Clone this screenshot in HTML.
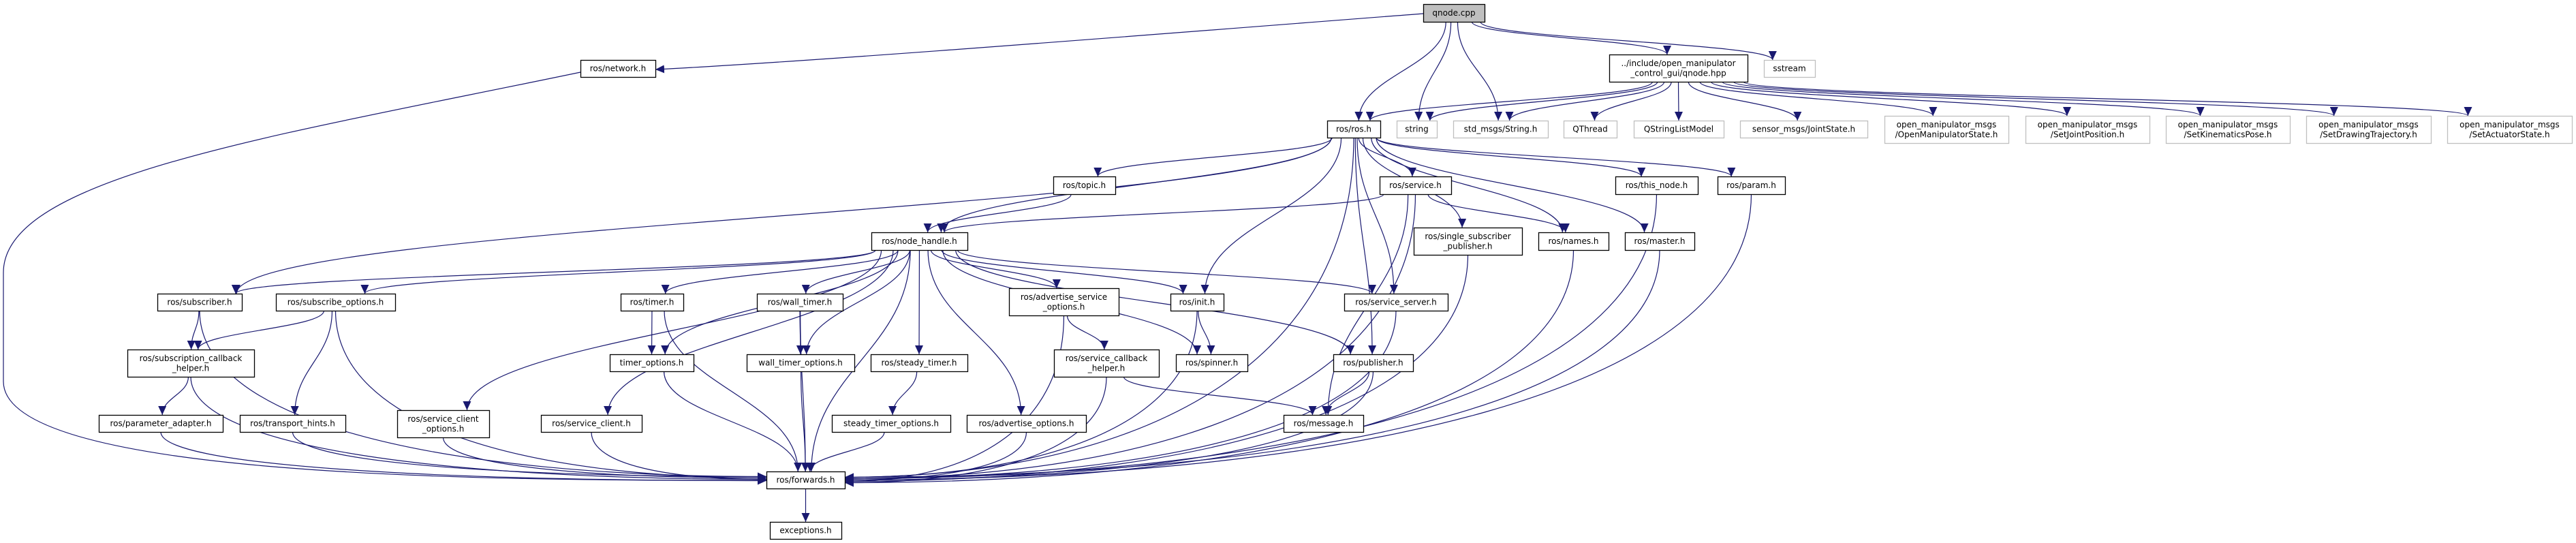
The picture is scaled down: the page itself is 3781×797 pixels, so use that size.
<!DOCTYPE html>
<html><head><meta charset="utf-8">
<style>
html,body{margin:0;padding:0;background:#fff;width:3781px;height:797px;overflow:hidden}
svg{display:block}
text{font-family:"DejaVu Sans","Liberation Sans",sans-serif;font-size:12px;fill:#000}
</style></head><body>
<svg id="g" width="3781" height="797" viewBox="0 0 3781 797" xmlns="http://www.w3.org/2000/svg">
<defs>
<marker id="a" markerUnits="userSpaceOnUse" markerWidth="14" markerHeight="12" refX="13" refY="6" orient="auto">
<path d="M0,0 L13,6 L0,12 Z" fill="#191970"/>
</marker>
</defs>
<g id="edges" fill="none" stroke="#191970" stroke-width="1.2"></g>
<g id="nodes"></g>
</svg>
<script>
var N={
qcpp:[2089,6,2179,32,["qnode.cpp"],2],
net:[852,88,962,113,["ros/network.h"],0],
hpp:[2362,80,2565,120,["../include/open_manipulator","_control_gui/qnode.hpp"],0],
sst:[2589,88,2664,113,["sstream"],1],
ros:[1948,177,2026,202,["ros/ros.h"],0],
str:[2050,177,2109,202,["string"],1],
smsg:[2133,177,2272,202,["std_msgs/String.h"],1],
qth:[2295,177,2373,202,["QThread"],1],
qsl:[2398,177,2530,202,["QStringListModel"],1],
js:[2554,177,2741,202,["sensor_msgs/JointState.h"],1],
om1:[2766,170,2948,210,["open_manipulator_msgs","/OpenManipulatorState.h"],1],
om2:[2973,170,3155,210,["open_manipulator_msgs","/SetJointPosition.h"],1],
om3:[3179,170,3361,210,["open_manipulator_msgs","/SetKinematicsPose.h"],1],
om4:[3385,170,3568,210,["open_manipulator_msgs","/SetDrawingTrajectory.h"],1],
om5:[3592,170,3775,210,["open_manipulator_msgs","/SetActuatorState.h"],1],
topic:[1546,259,1637,285,["ros/topic.h"],0],
svc:[2025,259,2130,285,["ros/service.h"],0],
tn:[2371,259,2492,285,["ros/this_node.h"],0],
par:[2521,259,2620,285,["ros/param.h"],0],
nh:[1279,341,1420,367,["ros/node_handle.h"],0],
ssp:[2075,334,2234,374,["ros/single_subscriber","_publisher.h"],0],
names:[2258,341,2361,367,["ros/names.h"],0],
master:[2385,341,2487,367,["ros/master.h"],0],
sub:[231,431,355,456,["ros/subscriber.h"],0],
subo:[405,431,580,456,["ros/subscribe_options.h"],0],
timer:[911,431,1003,456,["ros/timer.h"],0],
wt:[1111,431,1237,456,["ros/wall_timer.h"],0],
aso:[1481,423,1642,463,["ros/advertise_service","_options.h"],0],
init:[1718,431,1796,456,["ros/init.h"],0],
ss:[1973,431,2125,456,["ros/service_server.h"],0],
sch:[187,513,373,553,["ros/subscription_callback","_helper.h"],0],
to:[895,520,1018,545,["timer_options.h"],0],
wto:[1096,520,1254,545,["wall_timer_options.h"],0],
st:[1278,520,1420,545,["ros/steady_timer.h"],0],
svch:[1547,513,1701,553,["ros/service_callback","_helper.h"],0],
spin:[1726,520,1831,545,["ros/spinner.h"],0],
pub:[1957,520,2074,545,["ros/publisher.h"],0],
pa:[145,609,327,634,["ros/parameter_adapter.h"],0],
th:[352,609,507,634,["ros/transport_hints.h"],0],
sco:[583,602,718,642,["ros/service_client","_options.h"],0],
sc:[794,609,942,634,["ros/service_client.h"],0],
sto:[1221,609,1395,634,["steady_timer_options.h"],0],
ao:[1419,609,1594,634,["ros/advertise_options.h"],0],
msg:[1884,609,2001,634,["ros/message.h"],0],
fw:[1125,692,1240,717,["ros/forwards.h"],0],
exc:[1130,766,1235,791,["exceptions.h"],0]
};
var E=[
["qcpp","ros"],["qcpp","str"],["qcpp","smsg"],["qcpp","hpp"],["qcpp","sst"],
["hpp","ros"],["hpp","str"],["hpp","smsg"],["hpp","qth"],["hpp","qsl"],["hpp","js"],
["hpp","om1"],["hpp","om2"],["hpp","om3"],["hpp","om4"],["hpp","om5"],
["ros","nh"],["ros","sub"],["ros","topic"],["ros","svc"],["ros","init"],["ros","pub"],["ros","ssp"],
["ros","names"],["ros","master"],["ros","tn"],["ros","par"],["ros","ss"],["ros","fw"],
["topic","nh"],["svc","nh"],["svc","names"],["svc","msg"],["svc","fw"],
["nh","sub"],["nh","subo"],["nh","timer"],["nh","wt"],["nh","to"],["nh","wto"],["nh","st"],
["nh","aso"],["nh","init"],["nh","spin"],["nh","ss"],["nh","pub"],["nh","ao"],["nh","sc"],["nh","sco"],["nh","fw"],
["sub","sch"],["sub","fw"],["subo","sch"],["subo","th"],["subo","fw"],["sch","pa"],["sch","fw"],
["pa","fw"],["th","fw"],["sco","fw"],["sc","fw"],["timer","to"],["timer","fw"],["to","fw"],
["wt","wto"],["wt","fw"],["wto","fw"],["st","sto"],["sto","fw"],["ao","fw"],
["aso","svch"],["aso","fw"],["svch","msg"],["svch","fw"],["init","spin"],["init","fw"],
["ss","fw"],["pub","msg"],["pub","fw"],["ssp","fw"],["names","fw"],["master","fw"],["tn","fw"],["par","fw"],
["fw","exc"]
];
var eg=document.getElementById("edges"),ng=document.getElementById("nodes"),NS="http://www.w3.org/2000/svg";
function P(d){var p=document.createElementNS(NS,"path");p.setAttribute("d",d);p.setAttribute("marker-end","url(#a)");eg.appendChild(p);}
var li=0,ri=0;
E.forEach(function(e){
 var s=N[e[0]],t=N[e[1]];
 var sx=(s[0]+s[2])/2,sy=s[3],tx=(t[0]+t[2])/2,ty=t[1];
 var dx=tx-sx;
 if(e[1]=="fw"&&Math.abs(sx-tx)>250){
  var left=sx<tx; var ex=left?t[0]:t[2];
  var ey=(t[1]+t[3])/2+(left?(-5+(li++%4)*2):(-4+(ri++%5)*2));
  var off=(sx-ex)*0.55;
  P("M"+sx+","+sy+" C"+sx+","+(sy+(ey-sy)*0.7)+" "+(ex+off)+","+ey+" "+ex+","+ey);
  return;
 }
 var ssx=sx+Math.max(-(s[2]-s[0])/2+6,Math.min((s[2]-s[0])/2-6,dx*0.08));
 var ttx=tx-Math.max(-(t[2]-t[0])/2+8,Math.min((t[2]-t[0])/2-8,dx*0.05));
 var h=ty-sy;
 P("M"+ssx+","+sy+" C"+ssx+","+(sy+h*0.45)+" "+ttx+","+(ty-h*0.45)+" "+ttx+","+ty);
});
P("M2089,20 C1700,50 1200,90 962,102");
P("M852,106 C400,200 5,260 5,400 L5,560 C5,700 700,706 1125,705");
for(var k in N){var n=N[k];
 var r=document.createElementNS(NS,"rect");
 r.setAttribute("x",n[0]+0.5);r.setAttribute("y",n[1]+0.5);r.setAttribute("width",n[2]-n[0]);r.setAttribute("height",n[3]-n[1]);
 r.setAttribute("fill",n[5]==2?"#bfbfbf":"#fff");r.setAttribute("stroke",n[5]==1?"#bfbfbf":"#000");r.setAttribute("stroke-width","1.3");
 ng.appendChild(r);
 var cx=(n[0]+n[2])/2,cy=(n[1]+n[3])/2,L=n[4];
 for(var i=0;i<L.length;i++){var t=document.createElementNS(NS,"text");
  t.setAttribute("x",cx);t.setAttribute("y",cy+4+(i-(L.length-1)/2)*14.5);t.setAttribute("text-anchor","middle");
  t.textContent=L[i];ng.appendChild(t);}
}
</script>
</body></html>
